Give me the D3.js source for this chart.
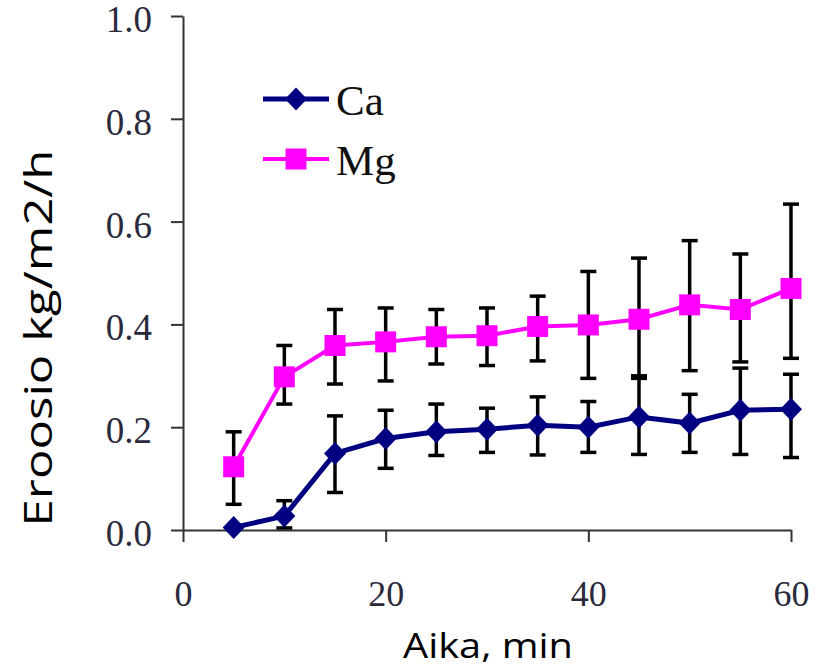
<html lang="fi">
<head>
    <meta charset="UTF-8">
    <title>Eroosio</title>
    <style>
        body { margin: 0; background: #fff; }
        .tick text { font-family: "Liberation Serif", serif; fill: #2a2a3c; }
    </style>
</head>
<body>
<script src="https://cdn.jsdelivr.net/npm/d3@7"></script>
<script>
    // aika (min)
    var times = [5, 10, 15, 20, 25, 30, 35, 40, 45, 50, 55, 60];
    // Ca: keskiarvo, virhepalkin ylä- ja alaraja
    var caValues = [0.005, 0.027, 0.149, 0.178, 0.191, 0.196, 0.204, 0.200, 0.220, 0.208, 0.233, 0.235];
    var caHigh   = [0.005, 0.057, 0.222, 0.233, 0.245, 0.237, 0.259, 0.250, 0.295, 0.264, 0.315, 0.303];
    var caLow    = [0.005, 0.004, 0.073, 0.120, 0.145, 0.151, 0.146, 0.151, 0.147, 0.151, 0.147, 0.141];
    // Mg
    var mgValues = [0.123, 0.298, 0.359, 0.366, 0.376, 0.378, 0.396, 0.399, 0.410, 0.438, 0.429, 0.470];
    var mgHigh   = [0.191, 0.359, 0.429, 0.432, 0.429, 0.432, 0.455, 0.503, 0.529, 0.563, 0.537, 0.634];
    var mgLow    = [0.050, 0.245, 0.284, 0.290, 0.323, 0.320, 0.329, 0.295, 0.300, 0.310, 0.327, 0.334];
    var xTicks = [0, 20, 40, 60];
    var yTicks = [0, 0.2, 0.4, 0.6, 0.8, 1.0];

    var svg = d3.select("body").append("svg").attr("width", 821).attr("height", 671);

    var x = d3.scaleLinear().domain([0, 60]).range([183, 791]);
    var y = d3.scaleLinear().domain([0, 1]).range([530, 16]);

    var series = [
        {name: "Ca", color: "#000080", width: 5, shape: "diamond",
         data: times.map(function(t, i){ return {t: t, v: caValues[i], hi: caHigh[i], lo: caLow[i]}; })},
        {name: "Mg", color: "#ff00ff", width: 4, shape: "square",
         data: times.map(function(t, i){ return {t: t, v: mgValues[i], hi: mgHigh[i], lo: mgLow[i]}; })}
    ];

    // akselit
    var yAxis = svg.append("g").attr("transform", "translate(183,0)")
        .call(d3.axisLeft(y).tickValues(yTicks).tickFormat(d3.format(".1f")).tickSize(12).tickSizeOuter(0).tickPadding(19));
    yAxis.selectAll("text").style("font-size", "37px").attr("dy", "0.42em");

    var xAxis = svg.append("g").attr("transform", "translate(0,530)")
        .call(d3.axisBottom(x).tickValues(xTicks).tickFormat(d3.format("d")).tickSize(12).tickSizeOuter(0).tickPadding(38));
    xAxis.selectAll("text").style("font-size", "36px").attr("dy", "0.71em");

    svg.selectAll(".domain, .tick line").attr("stroke", "#333").attr("stroke-width", 2);

    function marker(shape){
        if (shape == "diamond") return "M0,-11.5L11,0L0,11.5L-11,0Z";
        return "M-10.5,-10.5H10.5V10.5H-10.5Z";
    }

    // virhepalkit
    series.forEach(function(s){
        var g = svg.append("g").attr("stroke", "#000").attr("stroke-width", 3.5).attr("fill", "none");
        s.data.forEach(function(d){
            g.append("line").attr("x1", x(d.t)).attr("x2", x(d.t)).attr("y1", y(d.hi)).attr("y2", y(d.lo));
            g.append("line").attr("x1", x(d.t) - 8).attr("x2", x(d.t) + 8).attr("y1", y(d.hi)).attr("y2", y(d.hi));
            g.append("line").attr("x1", x(d.t) - 8).attr("x2", x(d.t) + 8).attr("y1", y(d.lo)).attr("y2", y(d.lo));
        });
    });

    var line = d3.line().x(function(d){ return x(d.t); }).y(function(d){ return y(d.v); });

    series.forEach(function(s){
        svg.append("path").datum(s.data)
            .attr("d", line)
            .attr("fill", "none")
            .attr("stroke", s.color)
            .attr("stroke-width", s.width);
        svg.selectAll(".m-" + s.name).data(s.data).enter().append("path")
            .attr("class", "m-" + s.name)
            .attr("transform", function(d){ return "translate(" + x(d.t) + "," + y(d.v) + ")"; })
            .attr("d", marker(s.shape))
            .attr("fill", s.color);
    });

    // selite
    var legend = svg.selectAll(".legend").data(series).enter().append("g")
        .attr("class", "legend")
        .attr("transform", function(d, i){ return "translate(0," + (99 + i * 60) + ")"; });
    legend.append("line")
        .attr("x1", 263).attr("x2", 329).attr("y1", 0).attr("y2", 0)
        .attr("stroke", function(d){ return d.color; })
        .attr("stroke-width", function(d){ return d.width; });
    legend.append("path")
        .attr("transform", "translate(296,0)")
        .attr("d", function(d){ return marker(d.shape); })
        .attr("fill", function(d){ return d.color; });
    legend.append("text")
        .attr("x", 336).attr("y", 16)
        .style("font-family", "Liberation Serif, serif")
        .style("font-size", "43px")
        .attr("fill", "#111")
        .text(function(d){ return d.name; });

    // akselien otsikot
    svg.append("text")
        .attr("x", 488).attr("y", 658)
        .attr("text-anchor", "middle")
        .attr("textLength", 170).attr("lengthAdjust", "spacingAndGlyphs")
        .style("font-family", "Open Sans, sans-serif").style("font-size", "35px")
        .text("Aika, min");

    svg.append("text")
        .attr("transform", "translate(52,338) rotate(-90)")
        .attr("text-anchor", "middle")
        .attr("textLength", 377).attr("lengthAdjust", "spacingAndGlyphs")
        .style("font-family", "Open Sans, sans-serif").style("font-size", "38px")
        .text("Eroosio kg/m2/h");
</script>
</body>
</html>
